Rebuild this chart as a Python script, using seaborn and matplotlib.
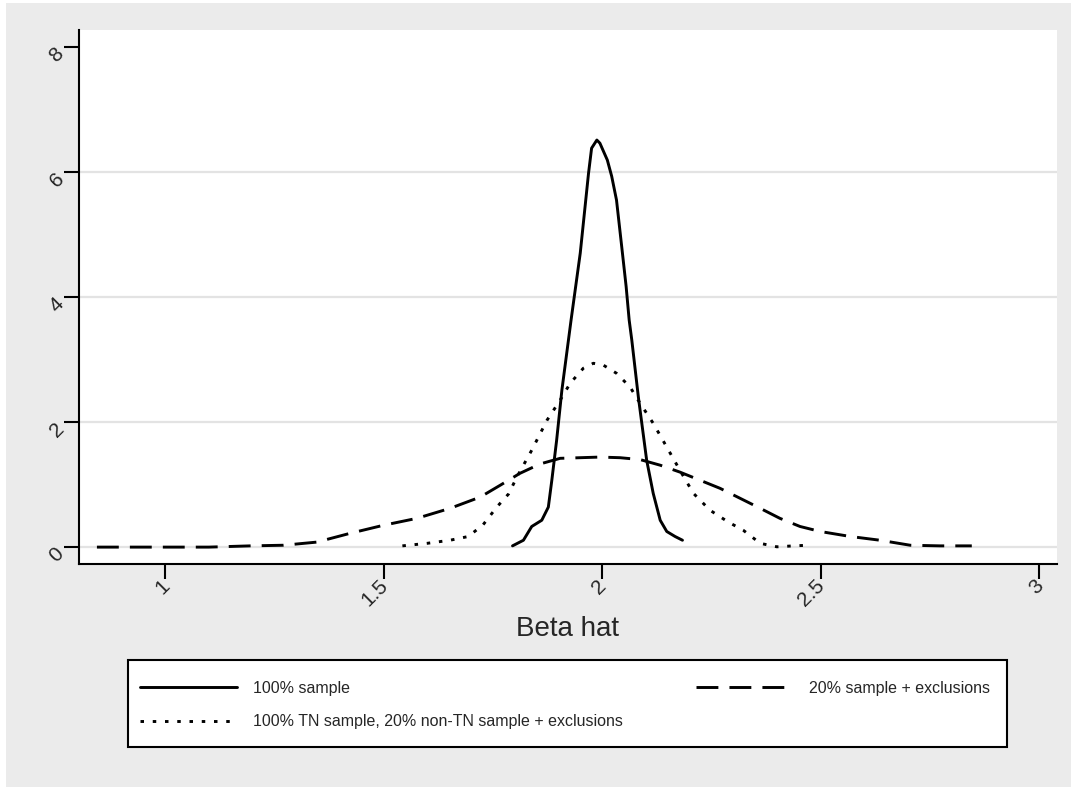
import matplotlib
matplotlib.use("Agg")
import matplotlib.pyplot as plt
import matplotlib.transforms as mtransforms
import seaborn as sns
from matplotlib.patches import Rectangle

# ---- data (kernel densities of beta hat) ----
x_full = [1.795, 1.820, 1.839, 1.862, 1.877, 1.885, 1.896, 1.908, 1.923, 1.929,
          1.950, 1.969, 1.976, 1.988, 1.995, 2.012, 2.022, 2.033, 2.045, 2.055,
          2.062, 2.068, 2.083, 2.102, 2.117, 2.133, 2.148, 2.167, 2.184]
y_full = [0.02, 0.11, 0.33, 0.43, 0.64, 1.07, 1.71, 2.51, 3.31, 3.63,
          4.70, 5.98, 6.38, 6.51, 6.46, 6.19, 5.93, 5.55, 4.80, 4.17,
          3.63, 3.31, 2.40, 1.39, 0.86, 0.43, 0.25, 0.17, 0.11]

x_sub = [0.844, 1.0, 1.1, 1.195, 1.271, 1.347, 1.423, 1.500, 1.576, 1.652,
         1.721, 1.767, 1.812, 1.858, 1.904, 1.950, 1.995, 2.041, 2.087, 2.133,
         2.178, 2.224, 2.270, 2.316, 2.362, 2.407, 2.453, 2.499, 2.568, 2.636,
         2.705, 2.773, 2.846]
y_sub = [0.0, 0.0, 0.0, 0.02, 0.03, 0.08, 0.22, 0.35, 0.46, 0.62,
         0.80, 0.99, 1.18, 1.33, 1.42, 1.43, 1.44, 1.43, 1.40, 1.31,
         1.20, 1.07, 0.94, 0.78, 0.62, 0.46, 0.33, 0.25, 0.17, 0.11,
         0.03, 0.02, 0.02]

x_mix = [1.543, 1.599, 1.652, 1.694, 1.728, 1.759, 1.786, 1.805, 1.839, 1.874,
         1.904, 1.927, 1.957, 1.980, 2.003, 2.033, 2.064, 2.087, 2.117, 2.148,
         2.178, 2.209, 2.247, 2.289, 2.323, 2.362, 2.400, 2.438, 2.472]
y_mix = [0.02, 0.06, 0.11, 0.17, 0.36, 0.64, 0.85, 1.12, 1.55, 2.03,
         2.35, 2.62, 2.86, 2.94, 2.91, 2.78, 2.56, 2.30, 1.98, 1.60,
         1.23, 0.86, 0.59, 0.40, 0.27, 0.06, 0.005, 0.02, 0.03]

labels = ["100% sample",
          "100% TN sample, 20% non-TN sample + exclusions",
          "20% sample + exclusions"]
x_ticks = [1, 1.5, 2, 2.5, 3]
x_ticklabels = ["1", "1.5", "2", "2.5", "3"]
y_ticks = [0, 2, 4, 6, 8]

# ---- figure ----
sns.set_style("white")
plt.rcParams['font.family'] = ['Liberation Sans', 'DejaVu Sans']

W, H = 1071, 787
fig = plt.figure(figsize=(W / 100, H / 100), dpi=100, facecolor="white")
# gray graph region like stata
fig.patches.append(Rectangle((6 / W, 0), 1 - 6 / W, 1 - 3 / H, transform=fig.transFigure,
                             facecolor="#ebebeb", edgecolor="none", zorder=-10))

ax = fig.add_axes([79 / W, 1 - 564 / H, (1057 - 79) / W, (564 - 30) / H])
ax.set_facecolor("white")

sns.lineplot(x=x_full, y=y_full, ax=ax, color="black", lw=2.1, label=labels[0], sort=False)
sns.lineplot(x=x_mix, y=y_mix, ax=ax, color="black", lw=2.1, label=labels[1], sort=False)
sns.lineplot(x=x_sub, y=y_sub, ax=ax, color="black", lw=2.1, label=labels[2], sort=False)
lines = ax.get_lines()
lines[1].set_dashes((1.2, 3.0))
lines[2].set_dashes((7.5, 3.8))
handles, labs = ax.get_legend_handles_labels()
ax.get_legend().remove()

ax.set_xlim(0.803, 3.041)
ax.set_ylim(-0.27, 8.27)
ax.set_xticks(x_ticks)
ax.set_xticklabels(x_ticklabels)
ax.set_yticks(y_ticks)

ax.grid(axis="y", color="#e3e3e3", lw=1.6)
ax.get_ygridlines()[-1].set_visible(False)
ax.set_axisbelow(True)

for s in ["top", "right"]:
    ax.spines[s].set_visible(False)
for s in ["left", "bottom"]:
    ax.spines[s].set_color("black")
    ax.spines[s].set_linewidth(1.5)

ax.tick_params(axis="both", direction="out", length=10.5, width=1.5, color="black",
               labelsize=15, pad=2, left=True, bottom=True)
x_shift = mtransforms.ScaledTranslation(8 / 100, 5 / 100, fig.dpi_scale_trans)
for t in ax.get_xticklabels():
    t.set_rotation(45)
    t.set_ha("right")
    t.set_va("top")
    t.set_transform(t.get_transform() + x_shift)
y_shift = mtransforms.ScaledTranslation(6 / 100, 3 / 100, fig.dpi_scale_trans)
for t in ax.get_yticklabels():
    t.set_rotation(45)
    t.set_ha("right")
    t.set_va("top")
    t.set_transform(t.get_transform() + y_shift)

ax.set_xlabel("Beta hat", fontsize=20)
ax.xaxis.set_label_coords(0.5, -0.097)
ax.set_ylabel("")

# legend box
fig.patches.append(Rectangle((128 / W, 1 - 747 / H), (1007 - 128) / W, (747 - 660) / H,
                             transform=fig.transFigure, facecolor="white",
                             edgecolor="black", lw=1.5, zorder=1))
leg = fig.legend(handles, labs, ncol=2, mode="expand", loc="upper left",
                 bbox_to_anchor=(128 / W, 1 - 747 / H, (1002 - 128) / W, (747 - 669) / H),
                 fontsize=11.5, handlelength=6.1, handletextpad=1.0, borderpad=0.75,
                 labelspacing=1.14, frameon=False, borderaxespad=0)
leg.set_zorder(2)

fig.savefig("out.png", dpi=100, facecolor=fig.get_facecolor())
